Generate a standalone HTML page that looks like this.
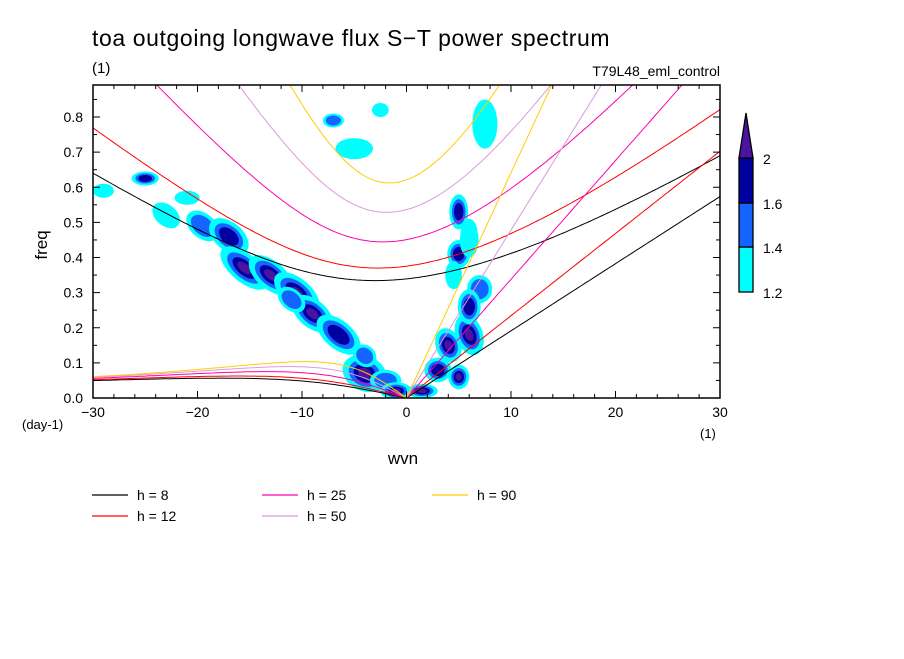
<!DOCTYPE html>
<html><head><meta charset="utf-8"><style>
body{margin:0;background:#fff;width:904px;height:654px;overflow:hidden}
svg{font-family:"Liberation Sans",sans-serif}
</style></head><body>
<svg id="chart" width="904" height="654" viewBox="0 0 904 654" xmlns="http://www.w3.org/2000/svg">
<defs><clipPath id="pc"><rect x="93" y="85" width="627" height="313"/></clipPath></defs>
<text x="92" y="46" font-size="23" letter-spacing="0.6">toa outgoing longwave flux S−T power spectrum</text>
<text x="92" y="73" font-size="15">(1)</text>
<text x="720" y="76" font-size="14" text-anchor="end">T79L48_eml_control</text>
<g id="blobs" clip-path="url(#pc)"></g>
<g id="curves" clip-path="url(#pc)"></g>
<rect x="93" y="85" width="627" height="313" fill="none" stroke="#000" stroke-width="1.5"/>
<g id="axes"></g>
<text transform="translate(47,245) rotate(-90)" font-size="17" text-anchor="middle">freq</text>
<text x="22" y="429" font-size="13">(day-1)</text>
<text x="700" y="438" font-size="13">(1)</text>
<text x="403" y="464" font-size="17" text-anchor="middle">wvn</text>
<g id="colorbar"></g>
<g id="legend"></g>
</svg>
<script>
const hValues=[8,12,25,50,90];
const hColors=["#000000","#ff0000","#ff00aa","#dd99dd","#ffcc00"];
const xTicks=[-30,-20,-10,0,10,20,30];
const yTicks=[0,0.1,0.2,0.3,0.4,0.5,0.6,0.7,0.8];
const cbLevels=[1.2,1.4,1.6,2];
const cbColors=["#00ffff","#1464ff","#0000a0","#4b14a0"];
// blobs: wavenumber, freq, half-width (wvn), half-height (freq), rotation deg, level(1-4)
const blobK=[-25,-29,-21,-19.5,-17,-15.5,-13,-10.5,-9,-6.5,-4,-2,-1,5,5,7,6,4,3,5,1.5,7.5,-5,-7,-2.5,-31,-23,-11,-4,6,6,4.5,6];
const blobF=[0.625,0.59,0.57,0.49,0.46,0.37,0.35,0.30,0.24,0.18,0.07,0.05,0.02,0.53,0.41,0.31,0.18,0.15,0.08,0.06,0.02,0.78,0.71,0.79,0.82,0.73,0.52,0.28,0.12,0.45,0.26,0.35,0.47];
const blobW=[1.3,1,1.2,1.8,2.2,2.8,2.5,2.6,2.3,2.5,2.2,1.5,1.5,0.9,1.1,1.2,1.3,1.2,1.3,1,1.5,1.2,1.8,1,0.8,0.8,1.5,1.5,1.2,0.9,1.1,0.8,0.8];
const blobH=[0.02,0.02,0.02,0.035,0.04,0.04,0.04,0.04,0.04,0.04,0.05,0.03,0.025,0.05,0.04,0.04,0.06,0.05,0.035,0.035,0.02,0.07,0.03,0.02,0.02,0.02,0.03,0.03,0.03,0.05,0.05,0.04,0.04];
const blobRot=[0,0,0,40,40,40,40,40,40,40,25,0,0,0,0,0,-20,-20,0,0,0,0,0,0,0,0,40,40,40,0,0,0,0];
const blobLevel=[3,1,1,2,3,4,4,4,4,3,4,2,4,3,3,2,4,4,3,4,4,1,1,2,1,1,1,2,2,1,3,1,1];

const NS="http://www.w3.org/2000/svg";
const X0=93,X1=720,Y0=398,Y1=85;
function xs(k){return X0+(k+30)/60*(X1-X0);}
function ys(f){return Y0-f/0.8*(Y0-117);}
function mk(tag,attrs,parent){const e=document.createElementNS(NS,tag);for(const a in attrs)e.setAttribute(a,attrs[a]);parent.appendChild(e);return e;}
const blobs=document.getElementById("blobs");
for(let i=0;i<blobK.length;i++){
  const cx=xs(blobK[i]),cy=ys(blobF[i]);
  const rx=blobW[i]*(X1-X0)/60, ry=blobH[i]*(Y0-117)/0.8;
  const scales=[1,0.72,0.5,0.3];
  for(let l=0;l<blobLevel[i];l++){
    const e=mk("ellipse",{cx:cx,cy:cy,rx:rx*scales[l],ry:ry*scales[l],fill:cbColors[l],transform:`rotate(${blobRot[i]},${cx},${cy})`},blobs);
    
    
  }
}
const g=9.81,Om=7.292e-5,a=6.371e6,beta=2*Om/a;
const curves=document.getElementById("curves");
function addPath(pts,col,name){
  const p=mk("path",{d:"M"+pts.map(q=>q[0].toFixed(1)+","+q[1].toFixed(1)).join("L"),fill:"none",stroke:col,"stroke-width":1},curves);
  
  
}
hValues.forEach((h,i)=>{
  const c=Math.sqrt(g*h),L=Math.sqrt(c/beta),T=Math.sqrt(beta*c)*86400/(2*Math.PI);
  const kel=[],ig=[],er=[];
  for(let k=-30;k<=30.001;k+=0.25){
    const kp=k/a*L;
    let w=Math.sqrt(3+kp*kp);
    for(let it=0;it<30;it++)w=Math.sqrt(3+kp*kp+kp/w);
    ig.push([xs(k),ys(w*T)]);
    if(k<=0){er.push([xs(k),ys(-kp/(kp*kp+3)*T)]);}
    if(k>=0){kel.push([xs(k),ys(c*k/a*86400/(2*Math.PI))]);}
  }
  addPath(kel,hColors[i],"kelvin-h"+h);
  addPath(ig,hColors[i],"ig-n1-h"+h);
  addPath(er,hColors[i],"er-n1-h"+h);
});
const axes=document.getElementById("axes");
for(let k=-30;k<=30;k+=2){
  const major=k%10===0;
  mk("line",{x1:xs(k),x2:xs(k),y1:Y0,y2:Y0-(major?7:4),stroke:"#000"},axes);
  mk("line",{x1:xs(k),x2:xs(k),y1:Y1,y2:Y1+(major?7:4),stroke:"#000"},axes);
}
xTicks.forEach(k=>{
  const t=mk("text",{x:xs(k),y:417,"font-size":14,"text-anchor":"middle"},axes);
  t.textContent=(k<0?"−":"")+Math.abs(k);
  
  
});
for(let f=0;f<=0.88;f+=0.05){
  const major=Math.abs(f*10-Math.round(f*10))<1e-6;
  mk("line",{x1:X0,x2:X0+(major?7:4),y1:ys(f),y2:ys(f),stroke:"#000"},axes);
  mk("line",{x1:X1,x2:X1-(major?7:4),y1:ys(f),y2:ys(f),stroke:"#000"},axes);
}
yTicks.forEach(f=>{
  const t=mk("text",{x:83,y:ys(f)+5,"font-size":14,"text-anchor":"end"},axes);
  t.textContent=f.toFixed(1);
  
  
});
const cb=document.getElementById("colorbar");
const cbY=[292,247,203,158];
for(let i=0;i<3;i++){
  const r=mk("rect",{x:739,y:cbY[i+1],width:14,height:cbY[i]-cbY[i+1],fill:cbColors[i],stroke:"#000","stroke-width":1.3},cb);
  
  
}
const tri=mk("polygon",{points:"739,158 753,158 746,113",fill:cbColors[3],stroke:"#000","stroke-width":1.3},cb);


cbLevels.forEach((v,i)=>{
  const t=mk("text",{x:763,y:cbY[i]+6,"font-size":14},cb);
  t.textContent=String(v);
  
  
});
const lg=document.getElementById("legend");
const lgX=[92,92,262,262,432],lgY=[495,516,495,516,495];
hValues.forEach((h,i)=>{
  mk("line",{x1:lgX[i],x2:lgX[i]+36,y1:lgY[i],y2:lgY[i],stroke:hColors[i],"stroke-width":1.3},lg);
  const t=mk("text",{x:lgX[i]+45,y:lgY[i]+5,"font-size":14,"xml:space":"preserve"},lg);
  t.textContent="h = "+(h<10?" ":"")+h;
  
  
});
</script>
</body></html>
